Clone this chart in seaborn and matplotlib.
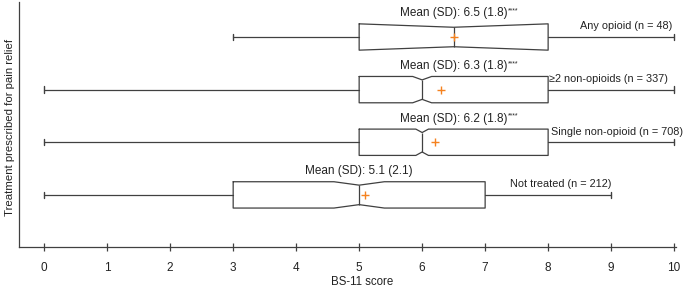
import matplotlib
matplotlib.use('Agg')
import matplotlib.pyplot as plt
import seaborn as sns

# data
groups = ['Any opioid', '≥2 non-opioids', 'Single non-opioid', 'Not treated']
n_obs = [48, 337, 708, 212]
means = [6.5, 6.3, 6.2, 5.1]
sds = [1.8, 1.8, 1.8, 2.1]
signif = ['****', '****', '****', '']
medians = [6.5, 6.0, 6.0, 5.0]
q1 = [5, 5, 5, 3]
q3 = [8, 8, 8, 7]
whis_lo = [3, 0, 0, 0]
whis_hi = [10, 10, 10, 9]
ci_lo = [5.0, 5.85, 5.9, 4.6]
ci_hi = [8.0, 6.15, 6.1, 5.4]

# layout
label_x = [8.5, 8.02, 8.05, 7.4]
line_col = '#404040'
text_col = '#222222'
mean_col = '#f5821f'
box_w = 0.5

sns.set_style('white')
plt.rcParams['font.family'] = ['Liberation Sans', 'DejaVu Sans']

stats = []
for i, g in enumerate(groups):
    stats.append(dict(label=g, med=medians[i], q1=q1[i], q3=q3[i],
                      whislo=whis_lo[i], whishi=whis_hi[i],
                      cilo=ci_lo[i], cihi=ci_hi[i], mean=means[i], fliers=[]))

fig = plt.figure(figsize=(6.85, 2.88), dpi=100)
ax = fig.add_axes([19 / 685, 1 - 247 / 288, 657 / 685, 245 / 288])

pos = list(range(len(groups)))
res = ax.bxp(stats, positions=pos, widths=box_w, orientation='horizontal',
             shownotches=True, showmeans=True, capwidths=0.12,
             boxprops=dict(color=line_col, lw=0.9),
             medianprops=dict(color=line_col, lw=0.9),
             whiskerprops=dict(color=line_col, lw=0.9),
             capprops=dict(color=line_col, lw=1.0),
             meanprops=dict(marker='+', markeredgecolor=mean_col,
                            markersize=6, markeredgewidth=1.0))

# shallower notches than matplotlib's default
for p, box, med in zip(pos, res['boxes'], res['medians']):
    new = []
    for y in box.get_ydata():
        if abs(y - (p - box_w * 0.25)) < 1e-9:
            y = p - box_w * 0.37
        elif abs(y - (p + box_w * 0.25)) < 1e-9:
            y = p + box_w * 0.37
        new.append(y)
    box.set_ydata(new)
    med.set_ydata([p - box_w * 0.37, p + box_w * 0.37])

for i, g in enumerate(groups):
    txt = 'Mean (SD): %.1f (%.1f)' % (means[i], sds[i])
    t = ax.text((q1[i] + q3[i]) / 2, pos[i] - 0.45, txt, ha='center',
                va='center', fontsize=8.5, color=text_col)
    if signif[i]:
        ax.annotate(signif[i], xy=(1, 1.0), xycoords=t, xytext=(0.5, 0),
                    textcoords='offset points', ha='left', va='top',
                    fontsize=5, color=text_col)
    ax.text(label_x[i], pos[i] - 0.2, '%s (n = %d)' % (g, n_obs[i]),
            ha='left', va='center', fontsize=7.8, color=text_col)

ax.set_xlim(-0.4, 10.03)
ax.set_ylim(3.99, -0.665)
ax.set_xticks(range(0, 11))
ax.set_yticks([])
ax.tick_params(axis='x', direction='inout', length=6, width=0.9, color=line_col,
               labelsize=8.5, pad=8, bottom=True, labelcolor=text_col)
ax.set_xlabel('BS-11 score', fontsize=8.3, color=text_col)
ax.set_ylabel('Treatment prescribed for pain relief', fontsize=8.2, color=text_col)
ax.xaxis.set_label_coords(0.522, -0.117)
ax.yaxis.set_label_coords(-0.006, 0.49)
sns.despine(ax=ax, top=True, right=True)
for s in ['left', 'bottom']:
    ax.spines[s].set_color(line_col)
    ax.spines[s].set_linewidth(0.9)

fig.savefig('out.png', dpi=100)
